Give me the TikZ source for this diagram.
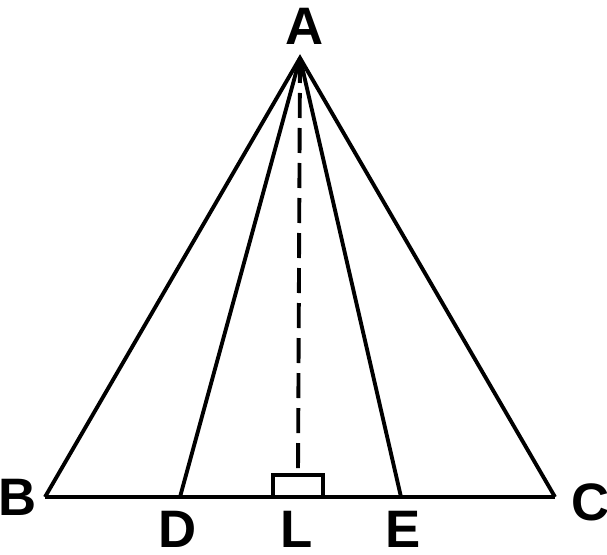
\documentclass[tikz,border=0pt]{standalone}
\usepackage{fontspec}
\setmainfont{Liberation Sans}
\usepackage{tikz}
\usetikzlibrary{calc}

\begin{document}
\begin{tikzpicture}[line width=1.1pt,
    pt/.style={font=\fontsize{15}{18}\selectfont\bfseries, inner sep=1pt}]
  \useasboundingbox (0,0) rectangle (6.07,5.54);
  % Vertices and feet on BC
  \coordinate (A) at (3.00,4.96);
  \coordinate (B) at (0.45,0.57);
  \coordinate (C) at (5.55,0.57);
  \coordinate (D) at (1.80,0.57);
  \coordinate (L) at (2.98,0.57);
  \coordinate (E) at (4.01,0.57);
  \coordinate (Ltop) at (2.98,0.79);
  % Triangle and cevians
  \draw (B) -- (A) -- (C);
  \draw (B) -- (C);
  \draw (A) -- (D);
  \draw (A) -- (E);
  % Altitude AL with right-angle mark
  \draw[dash pattern=on 0.25cm off 0.1cm] (A) -- (Ltop);
  \draw (2.73,0.57) rectangle (3.23,0.79);
  % Labels
  \node[pt] (labA) at (3.05,5.28) {A};
  \node[pt] (labB) at (0.18,0.57) {B};
  \node[pt] (labC) at (5.91,0.52) {C};
  \node[pt] (labD) at (1.78,0.25) {D};
  \node[pt] (labL) at (2.97,0.25) {L};
  \node[pt] (labE) at (4.03,0.25) {E};
\end{tikzpicture}
\end{document}
